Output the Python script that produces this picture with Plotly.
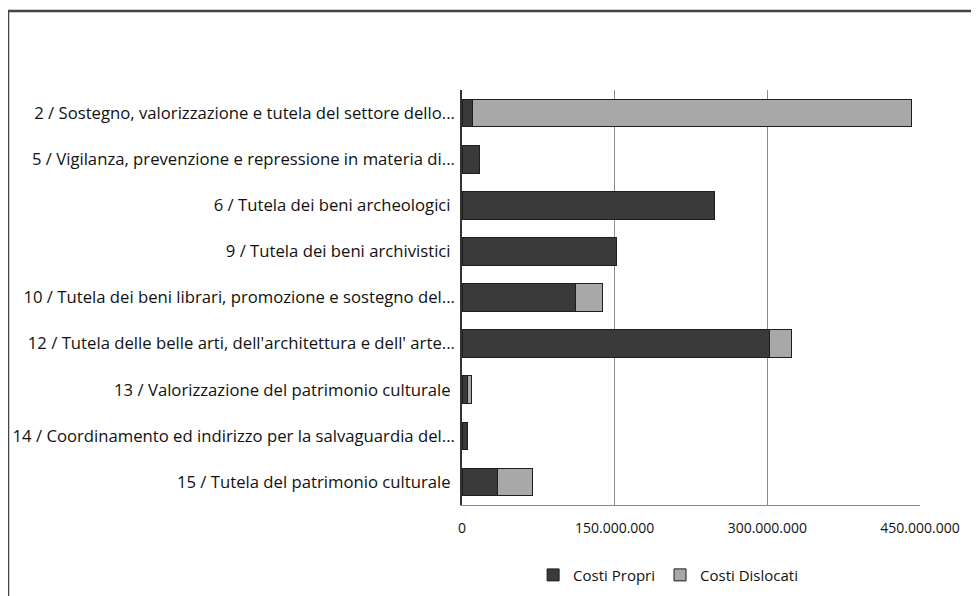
import plotly.graph_objects as go

categories = [
    "2 / Sostegno, valorizzazione e tutela del settore dello...",
    "5 / Vigilanza, prevenzione e repressione in materia di...",
    "6 / Tutela dei beni archeologici ",
    "9 / Tutela dei beni archivistici ",
    "10 / Tutela dei beni librari, promozione e sostegno del...",
    "12 / Tutela delle belle arti, dell'architettura e dell' arte...",
    "13 / Valorizzazione del patrimonio culturale ",
    "14 / Coordinamento ed indirizzo per la salvaguardia del...",
    "15 / Tutela del patrimonio culturale ",
]
costi_propri = [10e6, 17e6, 248e6, 152e6, 112e6, 302e6, 5e6, 5e6, 35e6]
costi_dislocati = [432e6, 0, 0, 0, 26e6, 22e6, 4.5e6, 0, 34e6]
tick_vals = [0, 150e6, 300e6, 450e6]

fig = go.Figure()
fig.add_trace(go.Bar(
    y=categories, x=costi_propri, name="Costi Propri", orientation="h",
    marker=dict(color="#3a3a3a", line=dict(color="#1e1e1e", width=1)),
))
fig.add_trace(go.Bar(
    y=categories, x=costi_dislocati, name="Costi Dislocati", orientation="h",
    marker=dict(color="#a8a8a8", line=dict(color="#1e1e1e", width=1)),
))

# page body has an 8px margin, so the figure is sized/offset to compensate
fig.update_layout(
    barmode="stack",
    bargap=0.4,
    width=971, height=588,
    margin=dict(l=454, r=59, t=82, b=91, autoexpand=False),
    paper_bgcolor="white",
    plot_bgcolor="white",
    separators=",.",
    font=dict(family="Open Sans, Lato, sans-serif", size=16.7, color="#111111"),
    legend=dict(orientation="h", x=0.45, xanchor="center", y=-0.169, yanchor="middle",
                font=dict(size=15), traceorder="normal"),
    shapes=[dict(type="rect", xref="paper", yref="paper",
                 x0=-454 / 458, x1=530 / 458, y0=-110 / 415, y1=494 / 415,
                 line=dict(color="#444444", width=2.5))],
)
fig.update_xaxes(
    range=[0, 450e6], tickvals=tick_vals, tickformat=",d",
    showgrid=True, gridcolor="#8c8c8c", gridwidth=1,
    showline=True, linecolor="#8c8c8c", mirror=False,
    zeroline=False, tickfont=dict(size=14), ticks="", ticklabelstandoff=10,
)
fig.update_yaxes(
    autorange="reversed", showline=True, linecolor="#333333", linewidth=1.5,
    ticks="", ticklabelstandoff=2,
)

fig.write_html("out.html")
